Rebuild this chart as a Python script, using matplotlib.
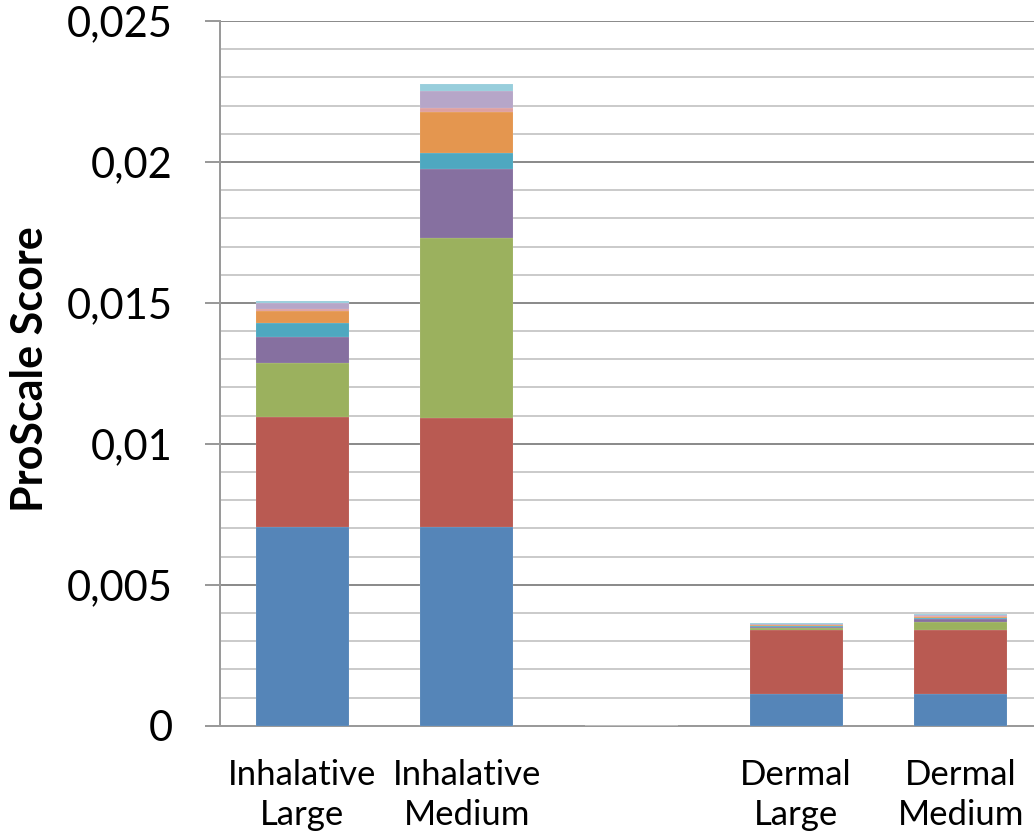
import matplotlib
matplotlib.use("Agg")
import matplotlib.pyplot as plt
import numpy as np
from matplotlib.ticker import MultipleLocator, FixedLocator

categories = ['Inhalative\nLarge', 'Inhalative\nMedium', '', 'Dermal\nLarge', 'Dermal\nMedium']

# values in ProScale score units
s1_blue     = [0.00706, 0.00706, 0.0, 0.00114, 0.00114]
s2_red      = [0.00388, 0.00387, 0.0, 0.00225, 0.00225]
s3_green    = [0.00191, 0.00637, 0.0, 0.00007, 0.00028]
s4_purple   = [0.00094, 0.00244, 0.0, 0.00004, 0.00010]
s5_teal     = [0.00051, 0.00059, 0.0, 0.00004, 0.00005]
s6_orange   = [0.00040, 0.00144, 0.0, 0.00002, 0.00005]
s7_pink     = [0.00010, 0.00016, 0.0, 0.00001, 0.00002]
s8_lavender = [0.00020, 0.00059, 0.0, 0.00003, 0.00003]
s9_ltblue   = [0.00007, 0.00026, 0.0, 0.00003, 0.00003]

series = [s1_blue, s2_red, s3_green, s4_purple, s5_teal, s6_orange, s7_pink, s8_lavender, s9_ltblue]
colors = ['#5585b8', '#b95a52', '#9bb15e', '#8670a0', '#4ea8c0', '#e4964f', '#dea0a0', '#b6a6c8', '#98cedc']

y_ticks = [0, 0.005, 0.01, 0.015, 0.02, 0.025]
y_tick_labels = ['0', '0,005', '0,01', '0,015', '0,02', '0,025']

plt.rcParams['font.family'] = ['Lato', 'DejaVu Sans']

PX = 72 / 100  # points per pixel

fig = plt.figure(figsize=(10.34, 8.36), dpi=100)
ax = fig.add_axes([220/1034, (836-725.7)/836, 823/1034, (725.7-21)/836])

x = np.arange(len(categories))
bottom = np.zeros(len(categories))
for vals, c in zip(series, colors):
    v = np.array(vals)
    ax.bar(x, v, width=0.565, bottom=bottom, color=c, edgecolor=(1, 1, 1, 0.3),
           linewidth=0.25, zorder=3)
    bottom += v

ax.set_xlim(-0.5, len(categories) - 0.5)
ax.set_ylim(0, 0.025)

ax.yaxis.set_major_locator(FixedLocator(y_ticks))
ax.set_yticklabels(y_tick_labels)
ax.yaxis.set_minor_locator(MultipleLocator(0.001))
ax.grid(which='major', axis='y', color='#8c8c8c', linewidth=2*PX, zorder=0)
ax.grid(which='minor', axis='y', color='#cbcbcb', linewidth=2*PX, zorder=0)
ax.set_axisbelow(True)

ax.set_xticks(x)
ax.set_xticklabels(categories, fontsize=25, linespacing=1.3)
ax.tick_params(axis='x', length=0, pad=24)
ax.tick_params(axis='y', which='major', length=15*PX, width=2*PX, color='#9a9a9a',
               labelsize=30, pad=32*PX)
ax.tick_params(axis='y', which='minor', length=0)

for side in ['top', 'right']:
    ax.spines[side].set_visible(False)
ax.spines['left'].set_color('#9a9a9a')
ax.spines['left'].set_linewidth(2*PX)
ax.spines['bottom'].set_color('#9a9a9a')
ax.spines['bottom'].set_linewidth(2*PX)

fig.text(30/1034, (836-369)/836, 'ProScale Score', rotation=90, fontsize=31,
         fontweight='bold', ha='center', va='center')

fig.savefig('out.png', dpi=100)
